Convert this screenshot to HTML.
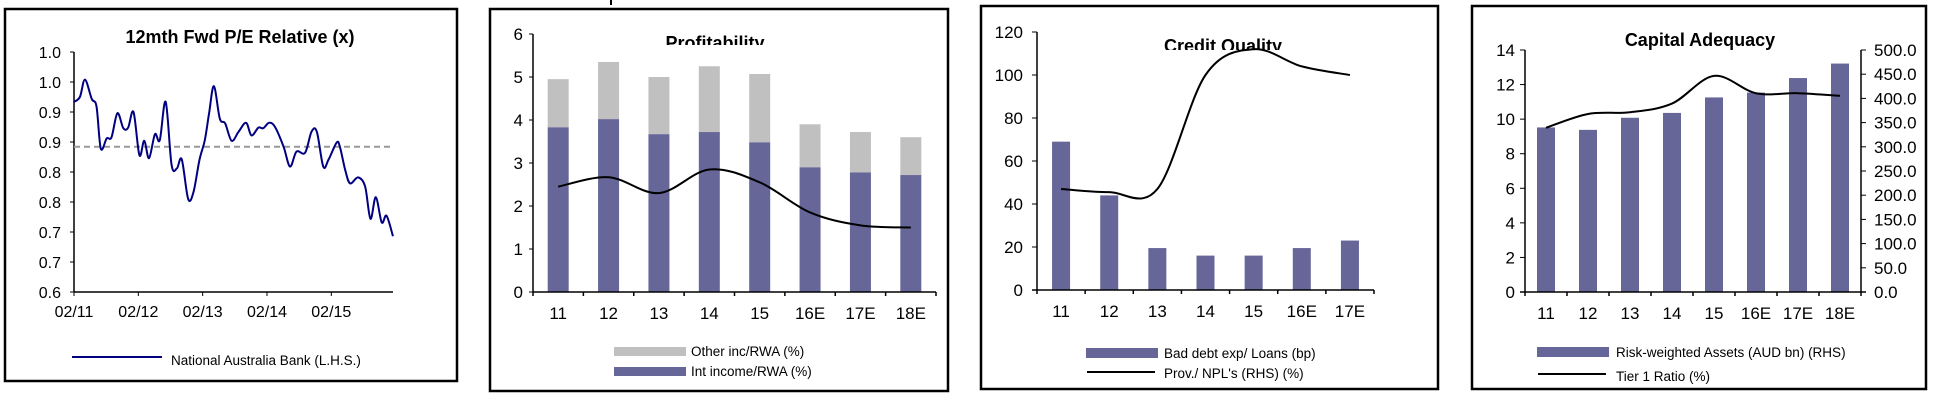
<!DOCTYPE html>
<html><head><meta charset="utf-8">
<style>
html,body{margin:0;padding:0;background:#fff;}
body{width:1937px;height:401px;overflow:hidden;position:relative;font-family:"Liberation Sans",Arial,sans-serif;}
svg{position:absolute;left:0;top:0;}
text{font-family:"Liberation Sans",Arial,sans-serif;}
</style></head><body>
<svg id="s" width="1937" height="401" viewBox="0 0 1937 401">
<defs>
<clipPath id="clipP"><rect x="490" y="0" width="460" height="45"/></clipPath>
<clipPath id="clipC"><rect x="981" y="0" width="460" height="50"/></clipPath>
</defs>
</svg>
<script>
// ---- Panel 1 data: 12mth Fwd P/E Relative ----
const peMonths=[0,1.1,2.05,3.3,4.2,5.0,6.1,7.0,8.1,9.2,10.1,11.1,12.2,13.1,14.0,15.1,16.0,17.1,18.2,19.2,20.1,21.3,22.3,23.4,24.4,25.2,26.1,27.2,28.2,29.4,30.7,32.1,33.1,34.4,35.3,36.4,37.5,39.1,40.3,41.5,43.1,44.3,45.3,46.5,47.5,49.0,49.6,50.6,51.5,53.0,54.3,55.3,56.3,57.4,58.3,59.5];
const peValues=[0.917,0.925,0.954,0.922,0.909,0.839,0.856,0.858,0.898,0.873,0.874,0.900,0.828,0.852,0.823,0.863,0.853,0.917,0.812,0.806,0.821,0.755,0.767,0.820,0.853,0.898,0.943,0.889,0.881,0.852,0.867,0.882,0.861,0.874,0.873,0.882,0.875,0.842,0.809,0.834,0.832,0.867,0.867,0.809,0.821,0.849,0.842,0.803,0.781,0.791,0.776,0.722,0.758,0.716,0.727,0.693];
const peAverage=0.842;
const peYTicks=[0.6,0.65,0.7,0.75,0.8,0.85,0.9,0.95,1.0];
const peXLabels=['02/11','02/12','02/13','02/14','02/15'];
// ---- Panel 2: Profitability ----
const profCats=['11','12','13','14','15','16E','17E','18E'];
const profInt=[3.83,4.02,3.67,3.72,3.48,2.9,2.78,2.72];
const profOther=[1.12,1.33,1.33,1.53,1.59,1.0,0.94,0.88];
const profLine=[2.45,2.67,2.3,2.85,2.55,1.85,1.55,1.5];
const profTicks=[0,1,2,3,4,5,6];
// ---- Panel 3: Credit Quality ----
const credCats=['11','12','13','14','15','16E','17E'];
const credBad=[69,44,19.5,16,16,19.5,23];
const credProv=[47,45.5,47,100,112,104,100];
const credTicks=[0,20,40,60,80,100,120];
// ---- Panel 4: Capital Adequacy ----
const capCats=['11','12','13','14','15','16E','17E','18E'];
const capRWA=[340,335,360,370,402,412,442,472];
const capTier1=[9.5,10.3,10.4,10.9,12.5,11.5,11.5,11.35];
const capLTicks=[0,2,4,6,8,10,12,14];
const capRTicks=[0,50,100,150,200,250,300,350,400,450,500];

const S=document.getElementById('s');
const NS='http://www.w3.org/2000/svg';
function mk(tag,attrs,parent){const e=document.createElementNS(NS,tag);for(const k in attrs)e.setAttribute(k,attrs[k]);(parent||S).appendChild(e);return e;}
function txt(x,y,s,size,anchor,weight,parent){const t=mk('text',{x:x,y:y,'font-size':size,'text-anchor':anchor||'start','font-weight':weight||'normal',fill:'#000'},parent);t.textContent=s;return t;}
function smooth(pts){let d='M'+pts[0][0]+','+pts[0][1];for(let i=0;i<pts.length-1;i++){const p0=pts[i-1]||pts[i],p1=pts[i],p2=pts[i+1],p3=pts[i+2]||p2;const t=6;d+=' C'+(p1[0]+(p2[0]-p0[0])/t)+','+(p1[1]+(p2[1]-p0[1])/t)+' '+(p2[0]-(p3[0]-p1[0])/t)+','+(p2[1]-(p3[1]-p1[1])/t)+' '+p2[0]+','+p2[1];}return d;}
function frame(x1,y1,x2,y2,name){const r=mk('rect',{x:x1,y:y1,width:x2-x1,height:y2-y1,fill:'none',stroke:'#000','stroke-width':2.5});}
const TF=16, TT=18, LF=13.5;

// ===== Panel 1 =====
frame(5,9,457,381,'pe-chart-frame');
{const g=mk('g',{});
const x0=74,x1=393,yT=52,yB=292,vMin=0.6,vMax=1.0,mPer=64.33/12;
const X=m=>x0+m*mPer, Y=v=>yB-(v-vMin)/(vMax-vMin)*(yB-yT);
const tt=txt(240,43,'12mth Fwd P/E Relative  (x)',TT,'middle','bold',g);
mk('line',{x1:x0,y1:yT,x2:x0,y2:yB,stroke:'#000','stroke-width':1.5},g);
mk('line',{x1:x0,y1:yB,x2:x1,y2:yB,stroke:'#000','stroke-width':1.5},g);
peYTicks.forEach(v=>{const y=Y(v);mk('line',{x1:x0-4,y1:y,x2:x0,y2:y,stroke:'#000'},g);const l=txt(x0-13,y+6,(Math.round(v*10)/10).toFixed(1),TF,'end','normal',g);});
peXLabels.forEach((s,i)=>{const x=X(i*12);mk('line',{x1:x,y1:yB,x2:x,y2:yB+4,stroke:'#000'},g);const l=txt(x,yB+25,s,TF,'middle','normal',g);});
const av=mk('line',{x1:x0,y1:Y(peAverage),x2:x1,y2:Y(peAverage),stroke:'#999','stroke-width':2,'stroke-dasharray':'6,4'},g);
const p=mk('path',{d:smooth(peMonths.map((m,i)=>[X(m),Y(peValues[i])])),fill:'none',stroke:'#000080','stroke-width':2},g);
mk('line',{x1:72,y1:357,x2:162,y2:357,stroke:'#000080','stroke-width':2},g);
const lg=txt(171,365,'National Australia Bank (L.H.S.)',LF,'start','normal',g);}

// ===== Panel 2 =====
mk('line',{x1:611,y1:0,x2:611,y2:5,stroke:'#000','stroke-width':2});
frame(490,9,948,391,'profitability-chart-frame');
{const g=mk('g',{});
const x0=533,x1=936,yT=34,yB=292,vMax=6,bw=21;const cw=(x1-x0)/profCats.length;
const X=i=>x0+cw*(i+0.5),Y=v=>yB-v/vMax*(yB-yT);
profCats.forEach((c,i)=>{const tot=profInt[i]+profOther[i];
const o=mk('rect',{x:X(i)-bw/2,y:Y(tot),width:bw,height:Y(profInt[i])-Y(tot),fill:'#c0c0c0'},g);
const b=mk('rect',{x:X(i)-bw/2,y:Y(profInt[i]),width:bw,height:yB-Y(profInt[i]),fill:'#666699'},g);
const l=txt(X(i),yB+27,c,17,'middle','normal',g);});
const tt=txt(715,49,'Profitability',TT,'middle','bold',g);tt.setAttribute('clip-path','url(#clipP)');
mk('line',{x1:x0,y1:yT,x2:x0,y2:yB,stroke:'#000','stroke-width':1.5},g);
mk('line',{x1:x0,y1:yB,x2:x1,y2:yB,stroke:'#000','stroke-width':1.5},g);
for(let i=0;i<=profCats.length;i++){const x=x0+cw*i;mk('line',{x1:x,y1:yB,x2:x,y2:yB+4,stroke:'#000','stroke-width':1.5},g);}
profTicks.forEach(v=>{mk('line',{x1:x0-4,y1:Y(v),x2:x0,y2:Y(v),stroke:'#000'},g);const l=txt(x0-10,Y(v)+6,String(v),17,'end','normal',g);});
const p=mk('path',{d:smooth(profCats.map((c,i)=>[X(i),Y(profLine[i])])),fill:'none',stroke:'#000','stroke-width':2},g);
mk('rect',{x:614,y:347,width:72,height:9,fill:'#c0c0c0'},g);
const a=txt(691,356,'Other inc/RWA   (%)',LF,'start','normal',g);
mk('rect',{x:614,y:367,width:72,height:9,fill:'#666699'},g);
const b2=txt(691,376,'Int income/RWA   (%)',LF,'start','normal',g);}

// ===== Panel 3 =====
frame(981,6,1438,389,'credit-chart-frame');
{const g=mk('g',{});
const x0=1037,x1=1374,yT=32,yB=290,vMax=120,bw=18;const cw=(x1-x0)/credCats.length;
const X=i=>x0+cw*(i+0.5),Y=v=>yB-v/vMax*(yB-yT);
credCats.forEach((c,i)=>{const b=mk('rect',{x:X(i)-bw/2,y:Y(credBad[i]),width:bw,height:yB-Y(credBad[i]),fill:'#666699'},g);
const l=txt(X(i),yB+27,c,17,'middle','normal',g);});
mk('line',{x1:x0,y1:yT,x2:x0,y2:yB,stroke:'#000','stroke-width':1.5},g);
mk('line',{x1:x0-5,y1:yB,x2:x1,y2:yB,stroke:'#000','stroke-width':1.5},g);
for(let i=0;i<=credCats.length;i++){const x=x0+cw*i;mk('line',{x1:x,y1:yB,x2:x,y2:yB+4,stroke:'#000','stroke-width':1.5},g);}
credTicks.forEach(v=>{mk('line',{x1:x0-5,y1:Y(v),x2:x0,y2:Y(v),stroke:'#000'},g);const l=txt(x0-14,Y(v)+6,String(v),17,'end','normal',g);});
const tt=txt(1223,52,'Credit Quality',TT,'middle','bold',g);tt.setAttribute('clip-path','url(#clipC)');
const p=mk('path',{d:smooth(credCats.map((c,i)=>[X(i),Y(credProv[i])])),fill:'none',stroke:'#000','stroke-width':2},g);
mk('rect',{x:1086,y:348,width:72,height:10,fill:'#666699'},g);
const a=txt(1164,358,'Bad debt  exp/ Loans  (bp)',LF,'start','normal',g);
mk('line',{x1:1087,y1:372,x2:1155,y2:372,stroke:'#000','stroke-width':2},g);
const b2=txt(1164,378,"Prov./ NPL's  (RHS) (%)",LF,'start','normal',g);}

// ===== Panel 4 =====
frame(1472,6,1926,389,'capital-chart-frame');
{const g=mk('g',{});
const x0=1525,x1=1861,yT=50,yB=292,lMax=14,rMax=500,bw=18;const cw=(x1-x0)/capCats.length;
const X=i=>x0+cw*(i+0.5),YL=v=>yB-v/lMax*(yB-yT),YR=v=>yB-v/rMax*(yB-yT);
capCats.forEach((c,i)=>{const b=mk('rect',{x:X(i)-bw/2,y:YR(capRWA[i]),width:bw,height:yB-YR(capRWA[i]),fill:'#666699'},g);
const l=txt(X(i),yB+27,c,17,'middle','normal',g);});
mk('line',{x1:x0,y1:yT,x2:x0,y2:yB,stroke:'#000','stroke-width':1.5},g);
mk('line',{x1:x1,y1:yT,x2:x1,y2:yB,stroke:'#000','stroke-width':1.5},g);
mk('line',{x1:x0-5,y1:yB,x2:x1+5,y2:yB,stroke:'#000','stroke-width':1.5},g);
for(let i=0;i<=capCats.length;i++){const x=x0+cw*i;mk('line',{x1:x,y1:yB,x2:x,y2:yB+4,stroke:'#000','stroke-width':1.5},g);}
capLTicks.forEach(v=>{mk('line',{x1:x0-5,y1:YL(v),x2:x0,y2:YL(v),stroke:'#000'},g);const l=txt(x0-10,YL(v)+6,String(v),17,'end','normal',g);});
capRTicks.forEach(v=>{mk('line',{x1:x1,y1:YR(v),x2:x1+5,y2:YR(v),stroke:'#000'},g);const l=txt(x1+13,YR(v)+6,v.toFixed(1),17,'start','normal',g);});
const tt=txt(1700,46,'Capital Adequacy',TT,'middle','bold',g);
const p=mk('path',{d:smooth(capCats.map((c,i)=>[X(i),YL(capTier1[i])])),fill:'none',stroke:'#000','stroke-width':2},g);
mk('rect',{x:1537,y:347,width:72,height:10,fill:'#666699'},g);
const a=txt(1616,357,'Risk-weighted  Assets (AUD bn) (RHS)',LF,'start','normal',g);
mk('line',{x1:1538,y1:374,x2:1606,y2:374,stroke:'#000','stroke-width':2},g);
const b2=txt(1616,381,'Tier 1  Ratio  (%)',LF,'start','normal',g);}
</script>
</body></html>
